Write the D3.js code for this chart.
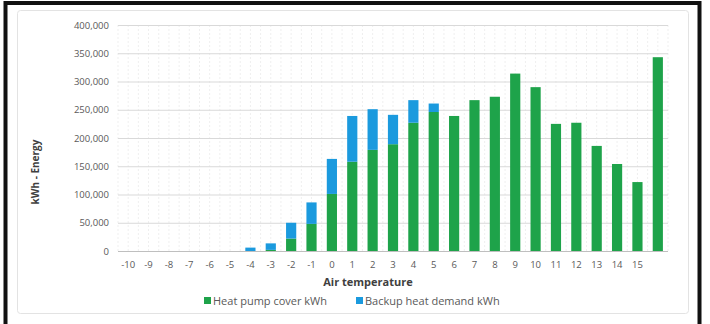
<!DOCTYPE html>
<html>
<head>
<meta charset="utf-8">
<script src="https://cdn.jsdelivr.net/npm/d3@7"></script>
<style>
  html, body { margin: 0; padding: 0; background: #fff; }
  svg { display: block; }
</style>
</head>
<body>
<svg id="chart" width="710" height="324"></svg>
<script>
// Air temperature categories (last column has no label)
const categories = ["-10","-9","-8","-7","-6","-5","-4","-3","-2","-1","0","1","2","3","4","5","6","7","8","9","10","11","12","13","14","15",""];
// Energy covered by the heat pump (kWh)
const heatPump = [0,0,0,0,0,0,0,2000,22000,48000,101000,158000,179000,189000,227000,246000,239000,267000,273000,314000,290000,225000,227000,186000,154000,122000,343000];
// Backup heat demand (kWh)
const backup = [0,0,0,0,0,0,6000,11500,28000,38000,62000,81000,72000,52000,40000,15000,0,0,0,0,0,0,0,0,0,0,0];
const yTicks = [0,50000,100000,150000,200000,250000,300000,350000,400000];
const seriesNames = ["Heat pump cover kWh", "Backup heat demand kWh"];
const colors = ["#1ea34a", "#1b9ade"];

const svg = d3.select("#chart");
const font = "'Open Sans', 'Liberation Sans', sans-serif";

// outer frame
svg.append("rect").attr("x", 5.5).attr("y", 3).attr("width", 694).attr("height", 330)
  .attr("fill", "none").attr("stroke", "#111").attr("stroke-width", 4);
// chart area
svg.append("rect").attr("x", 17.5).attr("y", 10.5).attr("width", 671).attr("height", 303)
  .attr("rx", 3).attr("fill", "#fff").attr("stroke", "#e3e3e3");

const plot = {left: 118, right: 668, top: 25, bottom: 251};

const x = d3.scaleBand().domain(d3.range(categories.length))
  .range([plot.left, plot.right]).paddingInner(0.5).paddingOuter(0.25);
const y = d3.scaleLinear().domain([0, 400000]).range([plot.bottom, plot.top]);

// vertical dotted gridlines
const step = x.step();
const vLines = d3.range(categories.length * 2 + 1).map(i => plot.left + i * step / 2);
svg.append("g").selectAll("line").data(vLines).join("line")
  .attr("x1", d => d).attr("x2", d => d)
  .attr("y1", plot.top).attr("y2", plot.bottom)
  .attr("stroke", "#efefef").attr("stroke-dasharray", "2,2");

// horizontal gridlines + y labels
const yAxis = svg.append("g").attr("transform", `translate(${plot.left},0)`)
  .call(d3.axisLeft(y).tickValues(yTicks).tickFormat(d3.format(",")).tickSize(-(plot.right - plot.left)).tickPadding(9));
yAxis.select(".domain").remove();
yAxis.selectAll(".tick line").attr("stroke", d => d === 0 ? "#bfbfbf" : "#d9d9d9");
yAxis.selectAll(".tick text").attr("fill", "#595959").style("font-family", font).style("font-size", "9.5px");

// stacked bars
const stacked = d3.stack().keys([0, 1]).value((d, k) => k === 0 ? d.hp : d.bk)(
  categories.map((c, i) => ({i, hp: heatPump[i], bk: backup[i]})));
svg.append("g").selectAll("g").data(stacked).join("g")
  .attr("fill", (d, i) => colors[i])
  .selectAll("rect").data(d => d).join("rect")
  .attr("x", d => x(d.data.i))
  .attr("width", x.bandwidth())
  .attr("y", d => y(d[1]))
  .attr("height", d => y(d[0]) - y(d[1]));

// x axis labels
const xAxis = svg.append("g").attr("transform", `translate(0,${plot.bottom})`)
  .call(d3.axisBottom(x).tickFormat(i => categories[i]).tickSize(0).tickPadding(10));
xAxis.select(".domain").remove();
xAxis.selectAll(".tick text").attr("fill", "#595959").style("font-family", font).style("font-size", "9.5px");

// axis titles
svg.append("text").attr("x", (plot.left + plot.right) / 2 - 25).attr("y", 286)
  .attr("text-anchor", "middle").attr("fill", "#404040")
  .style("font-family", font).style("font-size", "11px").style("font-weight", "bold")
  .text("Air temperature");
svg.append("text").attr("transform", "translate(39,172) rotate(-90)")
  .attr("text-anchor", "middle").attr("fill", "#404040")
  .style("font-family", font).style("font-size", "10px").style("font-weight", "bold")
  .text("kWh - Energy");

// legend
const legendX = [204, 356];
const legend = svg.append("g").selectAll("g").data(seriesNames).join("g")
  .attr("transform", (d, i) => `translate(${legendX[i]},297)`);
legend.append("rect").attr("width", 7).attr("height", 7).attr("fill", (d, i) => colors[i]);
legend.append("text").attr("x", 9).attr("y", 7.5).attr("fill", "#595959")
  .style("font-family", font).style("font-size", "11px").text(d => d);
</script>
</body>
</html>
